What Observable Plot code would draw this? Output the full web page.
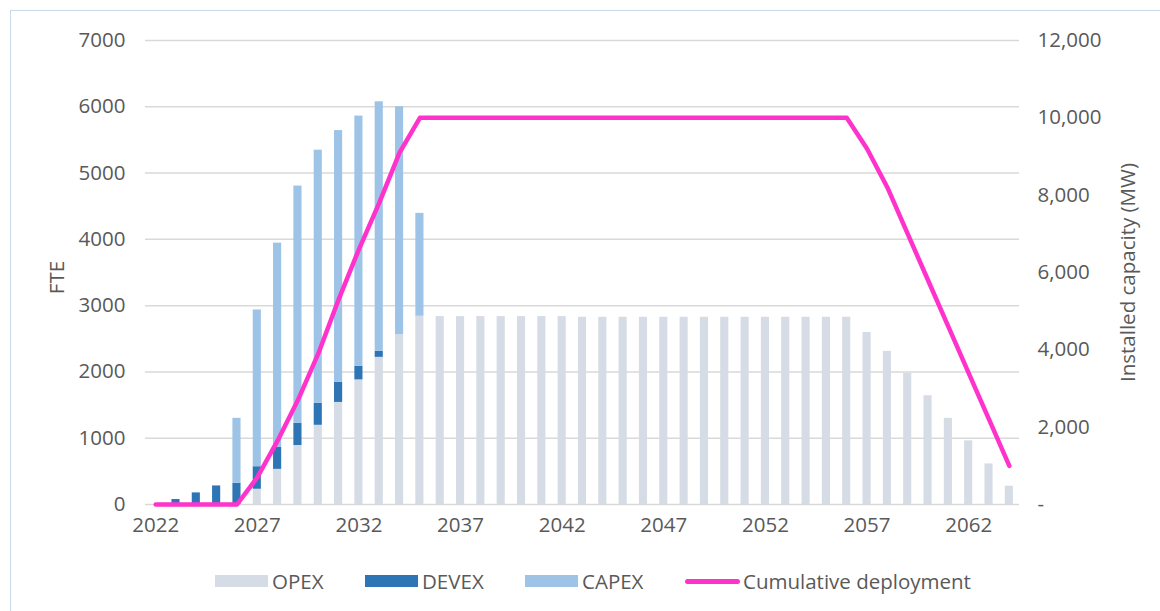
<!DOCTYPE html>
<html><head><meta charset="utf-8">
<script src="https://cdn.jsdelivr.net/npm/d3@7"></script>
<script src="https://cdn.jsdelivr.net/npm/@observablehq/plot@0.6"></script>
<style>
html,body{margin:0;padding:0;background:#fff;overflow:hidden;width:1160px;height:611px;font-family:"Open Sans",Lato,sans-serif;}
#frame{position:absolute;left:10px;top:10px;width:1200px;height:700px;border:1.5px solid #c8d7ea;box-sizing:border-box;}
#chart{position:absolute;left:0;top:0;}
#legend{position:absolute;top:569px;left:0;width:1160px;height:24px;font-size:20.5px;color:#595959;white-space:nowrap;}
#legend .item{position:absolute;top:0;height:24px;display:flex;align-items:center;}
#legend .sw{width:53px;height:12px;margin-right:4px;}
#legend .ln{width:55px;height:5px;border-radius:3px;margin-right:3px;}
</style></head>
<body>
<div id="frame"></div>
<div id="chart"></div>
<div id="legend"></div>
<script>
const years = d3.range(2022, 2065);
const opex = [0,0,0,0,0,230,530,890,1195,1540,1880,2220,2560,2840,
  2835,2835,2835,2835,2835,2835,2835,2825,2825,2825,2825,2825,2825,2825,2825,2825,2825,2825,2825,2825,2825,
  2595,2310,1980,1640,1300,960,612,276];
const devex = [0,75,175,280,320,340,330,335,330,305,205,90,0,0,
  0,0,0,0,0,0,0,0,0,0,0,0,0,0,0,0,0,0,0,0,0,
  0,0,0,0,0,0,0,0];
const capex = [0,0,0,0,980,2365,3083,3579,3820,3796,3775,3765,3440,1552,
  0,0,0,0,0,0,0,0,0,0,0,0,0,0,0,0,0,0,0,0,0,
  0,0,0,0,0,0,0,0];
const deployment = [0,0,0,0,0,700,1650,2700,3900,5300,6600,7800,9100,10000,
  10000,10000,10000,10000,10000,10000,10000,10000,10000,10000,10000,10000,10000,10000,10000,10000,10000,10000,10000,10000,10000,
  9200,8200,7000,5800,4600,3400,2200,1000];
const seriesNames = ["OPEX","DEVEX","CAPEX"];
const seriesColors = ["#d6dce5","#2e75b6","#9dc3e6"];
const lineName = "Cumulative deployment";
const lineColor = "#ff33cc";
const leftTicks = [0,1000,2000,3000,4000,5000,6000,7000];
const rightTicks = [0,2000,4000,6000,8000,10000,12000];
const xTicks = [2022,2027,2032,2037,2042,2047,2052,2057,2062];
const leftMax = 7000, rightMax = 12000;
const K = leftMax/rightMax;

const rows = [];
years.forEach((yr,i)=>{
  rows.push({year:yr,type:"OPEX",value:opex[i]});
  rows.push({year:yr,type:"DEVEX",value:devex[i]});
  rows.push({year:yr,type:"CAPEX",value:capex[i]});
});
const lineRows = years.map((yr,i)=>({year:yr,mw:deployment[i]}));
const fs = 20.5, tc = "#595959";
const ff = "'Open Sans', Lato, sans-serif";

const chart = Plot.plot({
  width:1160, height:560,
  marginLeft:145, marginRight:141, marginTop:40, marginBottom:56,
  style:{fontFamily:ff, fontSize:fs+"px", color:tc, background:"transparent"},
  x:{type:"band", domain:years, paddingInner:0.6, paddingOuter:0.3, round:false, axis:null},
  y:{domain:[0,leftMax], axis:null},
  color:{domain:seriesNames, range:seriesColors},
  marks:[
    Plot.gridY(leftTicks,{stroke:"#d9d9d9",strokeOpacity:1,strokeWidth:1.5}),
    Plot.barY(rows,{x:"year",y:"value",fill:"type",order:seriesNames}),
    Plot.line(lineRows,{x:"year",y:d=>d.mw*K,stroke:lineColor,strokeWidth:4.5,strokeLinejoin:"round",strokeLinecap:"round"}),
    Plot.axisY(leftTicks,{anchor:"left",tickSize:0,tickPadding:20,label:null,fill:tc,fontSize:fs,tickFormat:d=>String(d)}),
    Plot.axisY(rightTicks.map(v=>v*K),{anchor:"right",tickSize:0,tickPadding:18,label:null,fill:tc,fontSize:fs,
      tickFormat:v=>{const r=Math.round(v/K);return r===0?"-":d3.format(",")(r);}}),
    Plot.axisX(xTicks,{anchor:"bottom",tickSize:0,tickPadding:13,label:null,fill:tc,fontSize:fs,tickFormat:d=>String(d)}),
    Plot.text(["FTE"],{frameAnchor:"left",textAnchor:"middle",dx:-88,dy:5,rotate:-90,fill:tc,fontSize:fs}),
    Plot.text(["Installed capacity (MW)"],{frameAnchor:"right",textAnchor:"middle",dx:109,dy:0,rotate:-90,fill:tc,fontSize:fs})
  ]
});
document.getElementById("chart").appendChild(chart);

const lg = document.getElementById("legend");
const legendX = [215,365,525];
seriesNames.forEach((n,i)=>{
  const it=document.createElement("div");it.className="item";it.style.left=legendX[i]+"px";
  it.innerHTML=`<div class="sw" style="background:${seriesColors[i]}"></div><span>${n}</span>`;
  lg.appendChild(it);
});
const it=document.createElement("div");it.className="item";it.style.left="685px";
it.innerHTML=`<div class="ln" style="background:${lineColor}"></div><span>${lineName}</span>`;
lg.appendChild(it);
</script>
</body></html>
